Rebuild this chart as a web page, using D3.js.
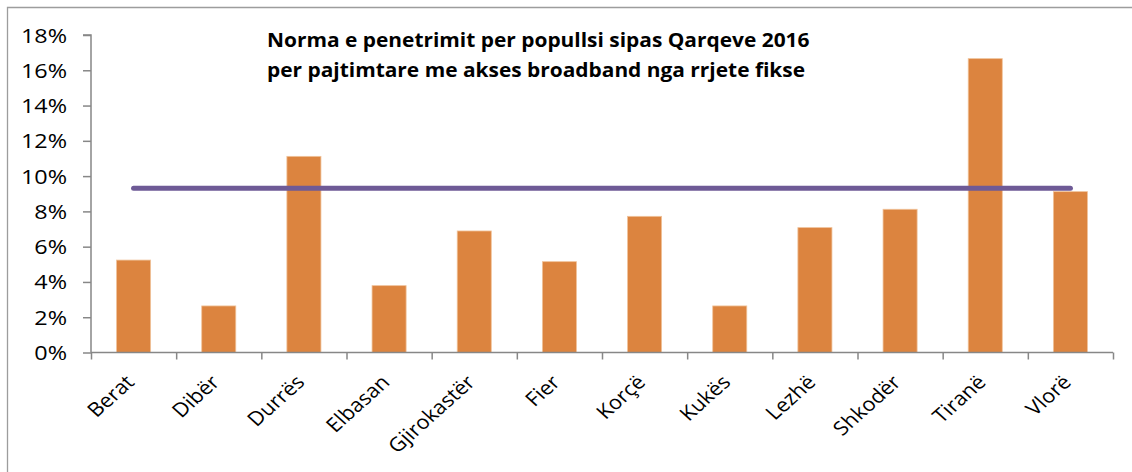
<!DOCTYPE html>
<html><head><meta charset="utf-8">
<script src="https://cdn.jsdelivr.net/npm/d3@7"></script>
<style>
html,body{margin:0;padding:0;background:#fff;}
svg{display:block;font-family:"Open Sans",sans-serif;}
</style></head>
<body>
<svg id="chart" width="1132" height="472"></svg>
<script>
const categories = ["Berat","Dibër","Durrës","Elbasan","Gjirokastër","Fier","Korçë","Kukës","Lezhë","Shkodër","Tiranë","Vlorë"];
const penetration = [5.24, 2.64, 11.12, 3.79, 6.89, 5.15, 7.72, 2.64, 7.08, 8.12, 16.66, 9.12];
const average = [9.31, 9.31, 9.31, 9.31, 9.31, 9.31, 9.31, 9.31, 9.31, 9.31, 9.31, 9.31];
const yTicks = [0, 2, 4, 6, 8, 10, 12, 14, 16, 18];
const titleLines = ["Norma e penetrimit per popullsi sipas Qarqeve 2016", "per pajtimtare me akses broadband nga rrjete fikse"];

const svg = d3.select("#chart");
const mLeft = 91, mRight = 1113, mTop = 35, mBottom = 352.5;

// outer frame (left and top edges visible)
svg.append("path").attr("d", "M7.5,472V7.5H1132")
  .attr("fill", "none").attr("stroke", "#9d9d9d").attr("stroke-width", 1.3);

const x = d3.scaleBand().domain(categories).range([mLeft, mRight]).padding(0);
const xi = d3.scaleLinear().domain([0, categories.length]).range([mLeft, mRight]);
const y = d3.scaleLinear().domain([0, 18]).range([mBottom, mTop]);

// bars
const bw = x.bandwidth() * 0.4;
svg.append("g").selectAll("rect").data(categories).join("rect")
  .attr("x", (d) => x(d) + (x.bandwidth() - bw) / 2)
  .attr("y", (d, i) => y(penetration[i]))
  .attr("width", bw)
  .attr("height", (d, i) => mBottom - y(penetration[i]))
  .attr("fill", "#dc843f")
  .attr("stroke", "#f0c39b").attr("stroke-width", 0.8);

// average line
const line = d3.line().x((d, i) => x(categories[i]) + x.bandwidth() / 2).y((d) => y(d));
svg.append("path").datum(average).attr("d", line)
  .attr("fill", "none").attr("stroke", "#6e5a96").attr("stroke-width", 5)
  .attr("stroke-linecap", "round");

// y axis
const yAxis = svg.append("g").attr("transform", `translate(${mLeft},0)`)
  .call(d3.axisLeft(y).tickValues(yTicks).tickFormat((d) => d + "%").tickSize(8).tickPadding(16));
yAxis.select(".domain").attr("stroke", "#878787").attr("stroke-width", 1.5).attr("d", `M-8,${mTop}H0V${mBottom}`);
yAxis.selectAll(".tick line").attr("stroke", "#878787").attr("stroke-width", 1.5);
yAxis.selectAll(".tick text")
  .attr("x", 0)
  .attr("dy", "0.36em")
  .attr("transform", "translate(-24,0) scale(1.2,1)")
  .attr("font-size", 19.5).attr("fill", "#000").attr("font-family", "Open Sans");

// x axis boundary ticks
const xAxis = svg.append("g").attr("transform", `translate(0,${mBottom})`)
  .call(d3.axisBottom(xi).tickValues(d3.range(0, categories.length + 1)).tickSize(7).tickFormat(""));
xAxis.select(".domain").attr("stroke", "#878787").attr("stroke-width", 1.5).attr("d", `M${mLeft},0H${mRight}`);
xAxis.selectAll(".tick line").attr("stroke", "#878787").attr("stroke-width", 1.5);

// category labels
svg.append("g").selectAll("text").data(categories).join("text")
  .attr("transform", (d) => `translate(${x(d) + x.bandwidth() / 2 + 2},${mBottom + 31}) scale(1.12,1) rotate(-45)`)
  .attr("text-anchor", "end")
  .attr("font-size", 19.5)
  .attr("fill", "#000")
  .text((d) => d);

// title
svg.append("g").selectAll("text").data(titleLines).join("text")
  .attr("transform", (d, i) => `translate(267,${47 + i * 29.5}) scale(1.1,1)`)
  .attr("font-size", 19)
  .attr("font-weight", "bold")
  .attr("fill", "#000")
  .text((d) => d);
</script>
</body></html>
